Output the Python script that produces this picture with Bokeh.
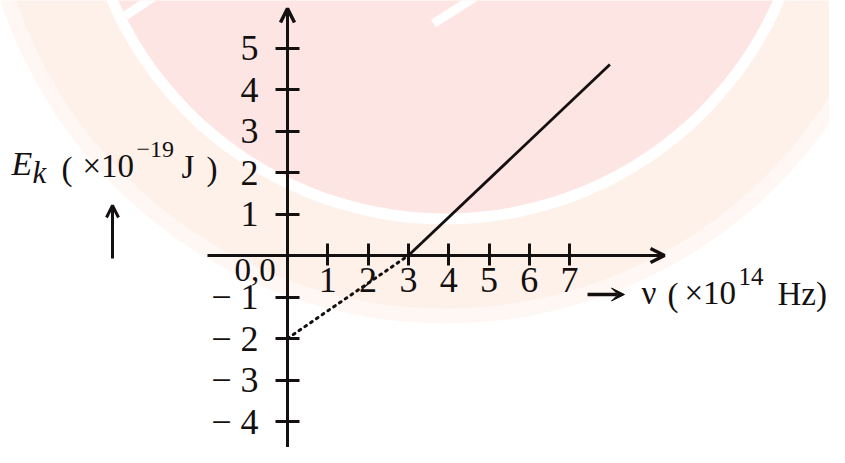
from bokeh.plotting import figure
from bokeh.models import Range1d, FixedTicker, Arrow, OpenHead, VeeHead, Label
from bokeh.embed import file_html
from bokeh.resources import INLINE

# ---- data ----
x_ticks = [1, 2, 3, 4, 5, 6, 7]
y_ticks = [-4, -3, -2, -1, 1, 2, 3, 4, 5]
y_tick_labels = {-4: "\u2212 4", -3: "\u2212 3", -2: "\u2212 2", -1: "\u2212 1"}
solid_x = [3, 8.0]          # nu (x10^14 Hz)
solid_y = [0, 4.6]          # Ek (x10^-19 J)
dotted_x = [0, 3]
dotted_y = [-2, 0]

# ---- layout (picture pixels -> data) ----
W, H = 829, 447
X0, XS = 287.0, 40.3     # pixel x of nu=0, px per unit
Y0, YS = 255.0, 41.5     # pixel y of Ek=0, px per unit
def dx(px):
    return (px - X0) / XS
def dy(py):
    return (Y0 - py) / YS

FONT = "Liberation Serif"
INK = "#141010"
BASE_FIX = 11  # label baseline correction (px)

p = figure(width=W, height=H, output_backend="svg", toolbar_location=None,
           x_range=Range1d(dx(0), dx(W)), y_range=Range1d(dy(H), dy(0)),
           min_border=0, outline_line_color=None, background_fill_color="white",
           border_fill_color="white")
p.grid.visible = False

# ---- watermark background ----
cx, cy = dx(445), dy(-145)
p.annulus(x=[cx], y=[cy], inner_radius=452, outer_radius=468,
          inner_radius_units="screen", outer_radius_units="screen",
          fill_color="#fef7f3", line_color=None)
p.annulus(x=[cx], y=[cy], inner_radius=369, outer_radius=453,
          inner_radius_units="screen", outer_radius_units="screen",
          fill_color="#fdf1ea", line_color=None)
p.annulus(x=[cx], y=[cy], inner_radius=0, outer_radius=358,
          inner_radius_units="screen", outer_radius_units="screen",
          fill_color="#fde5e4", line_color=None)
p.line(x=[dx(125), dx(152)], y=[dy(15), dy(-3)], line_color="white", line_width=9)
p.line(x=[dx(433), dx(474)], y=[dy(23), dy(-3)], line_color="white", line_width=9)

# ---- axes ----
for ax in (p.xaxis[0], p.yaxis[0]):
    ax.fixed_location = 0
    ax.axis_line_width = 3
    ax.axis_line_color = INK
    ax.major_tick_line_width = 3
    ax.major_tick_line_color = INK
    ax.minor_tick_line_color = None
    ax.major_label_text_font = FONT
    ax.major_label_text_font_size = "36px"
    ax.major_label_text_color = INK

p.xaxis[0].ticker = FixedTicker(ticks=x_ticks)
p.xaxis[0].bounds = (dx(207), dx(662))
p.xaxis[0].major_tick_in = 12
p.xaxis[0].major_tick_out = 10
p.xaxis[0].major_label_standoff = 2

p.yaxis[0].ticker = FixedTicker(ticks=y_ticks)
p.yaxis[0].bounds = (dy(470), dy(12))
p.yaxis[0].major_tick_in = 12
p.yaxis[0].major_tick_out = 12
p.yaxis[0].major_label_standoff = 17
p.yaxis[0].major_label_overrides = y_tick_labels

# arrow heads on axes
p.add_layout(Arrow(end=OpenHead(size=14, line_width=3.5, line_color=INK),
                   x_start=dx(640), y_start=0, x_end=dx(664), y_end=0,
                   line_width=3, line_color=INK))
p.add_layout(Arrow(end=OpenHead(size=14, line_width=3.5, line_color=INK),
                   x_start=0, y_start=dy(40), x_end=0, y_end=dy(8),
                   line_width=3, line_color=INK))

# ---- data lines ----
p.line(x=solid_x, y=solid_y, line_color=INK, line_width=2.8)
p.line(x=dotted_x, y=dotted_y, line_color=INK, line_width=3,
       line_dash="2 5", line_cap="round")

# ---- texts ----
def lab(text, px, py, size="33px", style="normal"):
    p.add_layout(Label(x=dx(px), y=dy(py - BASE_FIX), text=text, text_font=FONT,
                       text_font_size=size, text_font_style=style,
                       text_color=INK, text_baseline="alphabetic",
                       text_align="left"))

lab("0,0", 234, 280, "33px")

# x title
p.add_layout(Arrow(end=VeeHead(size=13, fill_color=INK, line_color=INK),
                   x_start=dx(587), y_start=dy(294), x_end=dx(624), y_end=dy(294),
                   line_width=3.5, line_color=INK))
lab("\u03bd", 641, 303)
lab("(", 667, 305)
lab("\u00d710", 684, 303)
lab("14", 738, 287, "25px")
lab("Hz)", 777, 304)

# y title
lab("E", 11, 174, "34px", "italic")
lab("k", 32, 183, "31px", "italic")
lab("(", 61, 179)
lab("\u00d710", 82, 176)
lab("\u221219", 136, 160, "24px")
lab("J", 181, 177)
lab(")", 206, 179)
p.add_layout(Arrow(end=OpenHead(size=12, line_width=3, line_color=INK),
                   x_start=dx(112), y_start=dy(258), x_end=dx(112), y_end=dy(205),
                   line_width=3, line_color=INK))

open("out.html", "w").write(file_html(p, INLINE))
